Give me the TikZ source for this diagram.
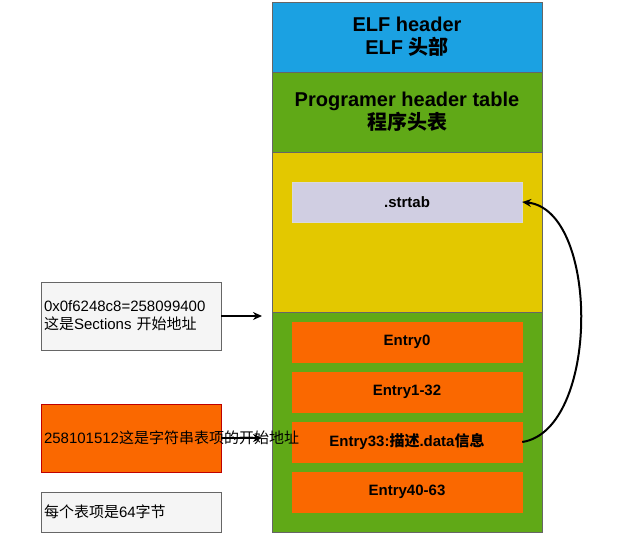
\documentclass[tikz,border=0pt]{standalone}
\usepackage{fontspec}
\setmainfont{Liberation Sans}
\newfontfamily\cjk{Noto Sans CJK SC}
\usetikzlibrary{arrows.meta}
\definecolor{eblue}{HTML}{1BA1E2}
\definecolor{egreen}{HTML}{60A917}
\definecolor{eyel}{HTML}{E3C800}
\definecolor{eora}{HTML}{FA6800}
\definecolor{estr}{HTML}{D0CEE2}
\tikzset{
 blk/.style={draw=black!60,line width=0.6pt},
 title/.style={font=\fontsize{20}{23}\selectfont\bfseries,align=center},
 entry/.style={draw=eora,fill=eora,minimum width=230pt,minimum height=40pt,font=\fontsize{15}{17}\selectfont\bfseries},
 note/.style={draw=black!60,fill=black!4,line width=0.6pt,minimum width=180pt,align=left,text width=174pt,inner sep=3pt,font=\fontsize{15}{18}\selectfont},
 arr/.style={-{Stealth[length=9pt,width=8pt]},line width=2pt}
}
\begin{document}
\begin{tikzpicture}[x=1pt,y=-1pt]
\useasboundingbox (0,0) rectangle (634,554);
\draw[blk,fill=eblue] (272,2) rectangle (542,72);
\node[title] (elf) at (407,37) {ELF header\\ELF {\cjk 头部}};
\draw[blk,fill=egreen] (272,72) rectangle (542,152);
\node[title] (ph) at (407,112) {Programer header table\\{\cjk 程序头表}};
\draw[blk,fill=eyel] (272,152) coordinate (yt) rectangle (542,312);
\coordinate (sec) at (272,316);
\draw[blk,fill=egreen] (272,312) rectangle (542,532);
\node[draw=black!15,fill=estr,minimum width=230pt,minimum height=40pt,font=\fontsize{15}{17}\selectfont\bfseries] (str) at (407,202) {.strtab};
\node[entry] (e0) at (407,342) {Entry0};
\node[entry] (e1) at (407,392) {Entry1-32};
\node[entry] (e33) at (407,442) {Entry33:{\cjk 描述}.data{\cjk 信息}};
\node[entry] (e40) at (407,492) {Entry40-63};
\node[note,minimum height=68pt] (n1) at (131,316) {0x0f6248c8=258099400\\{\cjk 这是}Sections {\cjk 开始地址}};
\node[note,fill=eora,draw=red!75!black,minimum height=68pt] (n2) at (131,438) {258101512{\cjk 这是字符串表项的开始地址}};
\node[note,minimum height=40pt] (n3) at (131,512) {{\cjk 每个表项是}64{\cjk 字节}};
\coordinate (a1) at (262,316);
\coordinate (a2) at (262,438);
\draw[arr] (n1.east) -- (a1);
\draw[arr] (n2.east) -- (a2);
\draw[arr] (e33.east) .. controls (600,430) and (600,210) .. (str.east);
\end{tikzpicture}
\end{document}
